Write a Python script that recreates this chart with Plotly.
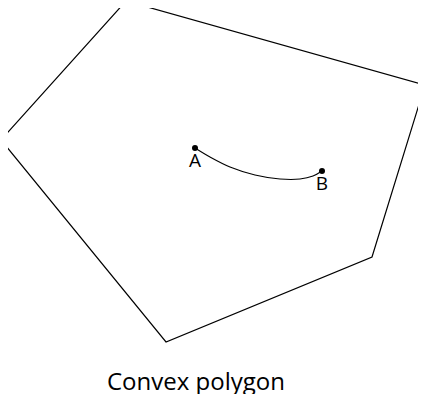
import plotly.graph_objects as go

# polygon corners (pixel-like units, y grows downward)
poly_x = [126, 425, 372, 166, 1, 126]
poly_y = [1, 85, 257, 342, 140, 1]

# curve from A to B
curve_x = [195, 210, 230, 255, 280, 300, 313, 322]
curve_y = [148, 157, 167, 175, 179, 179, 176, 171]

point_names = ["A", "B"]
point_x = [195, 322]
point_y = [148, 171]

title_text = "Convex polygon"

fig = go.Figure()
fig.add_trace(go.Scatter(x=poly_x, y=poly_y, mode="lines",
                         line=dict(color="black", width=1.2)))
fig.add_trace(go.Scatter(x=curve_x, y=curve_y, mode="lines",
                         line=dict(color="black", width=1.1, shape="spline")))
fig.add_trace(go.Scatter(x=point_x, y=point_y, mode="markers+text",
                         marker=dict(color="black", size=6),
                         text=point_names, textposition="bottom center",
                         textfont=dict(family="Open Sans", size=19, color="black")))
fig.add_annotation(x=196, y=380, text=title_text, showarrow=False,
                   font=dict(family="Open Sans", size=24, color="black"))

# page body has an 8px margin, so shift the ranges to compensate
fig.update_xaxes(range=[8, 426], visible=False)
fig.update_yaxes(range=[394, 8], visible=False)
fig.update_layout(width=418, height=386, margin=dict(l=0, r=0, t=0, b=0),
                  showlegend=False, plot_bgcolor="white", paper_bgcolor="white")
fig.write_html("out.html")
